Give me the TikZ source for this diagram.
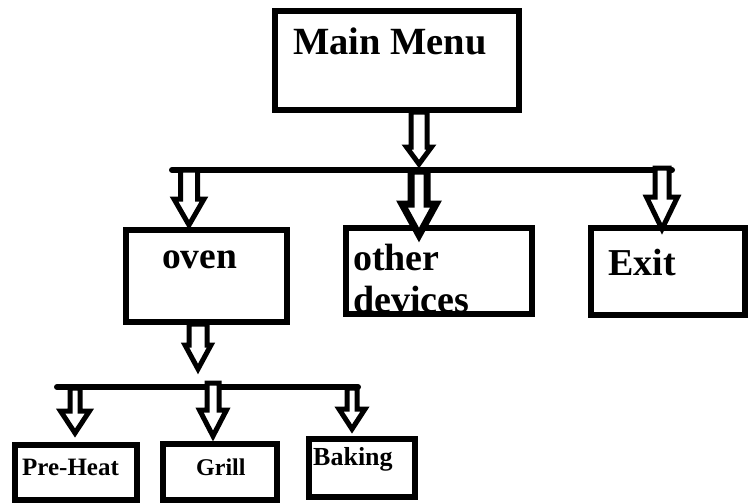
\documentclass[tikz,border=0pt]{standalone}
\usepackage{fontspec}
\setmainfont{Liberation Serif}
\usetikzlibrary{calc}
\tikzset{
  box/.style={draw=black, line width=6pt, fill=white, rectangle, inner sep=0pt, minimum width=#1},
  bus/.style={draw=black, line width=6pt, line cap=round},
  harrowstyle/.style={draw=black, fill=white, line width=5pt, line join=miter, miter limit=3},
  lbl/.style={anchor=base west, inner sep=0pt, font=\bfseries},
}
% hollow block arrow: #1 start, #2 tip, #3 shaft half width, #4 head half width, #5 head length
\newcommand\harr[6][]{\draw[harrowstyle,#1] let \p1=(#2),\p2=(#3) in
  (\x1-#4,\y1) -- (\x1-#4,\y2+#6) -- (\x1-#5,\y2+#6) -- (\x1,\y2) -- (\x1+#5,\y2+#6) -- (\x1+#4,\y2+#6) -- (\x1+#4,\y1) -- cycle;}
\newcommand\boxat[5]{\node[box=#4-#2, minimum height=#5-#3] (#1) at ({(#2+#4)/2},{(#3+#5)/2}) {};}
\begin{document}
\begin{tikzpicture}[x=1pt,y=-1pt]
\useasboundingbox (0,0) rectangle (748,504);
% boxes
\node[box=244pt, minimum height=99pt] (main) at (397,60.5) {};
\node[box=161pt, minimum height=92pt] (oven) at (206.5,276) {};
\node[box=186pt, minimum height=86pt] (other) at (439,271) {};
\node[box=154pt, minimum height=87pt] (exit) at (668,271.5) {};
\node[box=122pt, minimum height=55pt] (pre) at (76,472.5) {};
\node[box=114pt, minimum height=56pt] (grill) at (220,472) {};
\node[box=106pt, minimum height=58pt] (bake) at (362,468) {};
% labels
\node[lbl, font=\bfseries\fontsize{38.5}{40}\selectfont] (tmain) at (293,54) {Main Menu};
\node[lbl, font=\bfseries\fontsize{37.5}{40}\selectfont] (toven) at (162,268) {oven};
\node[lbl, font=\bfseries\fontsize{38}{40}\selectfont] (tother) at (353,270) {other};
\node[lbl, font=\bfseries\fontsize{38}{40}\selectfont] (tdev) at (353,312) {devices};
\node[lbl, font=\bfseries\fontsize{38}{40}\selectfont] (texit) at (608,275) {Exit};
\node[lbl, font=\bfseries\fontsize{25}{27}\selectfont] (tpre) at (22,475) {Pre-Heat};
\node[lbl, font=\bfseries\fontsize{24}{26}\selectfont] (tgrill) at (196,475) {Grill};
\node[lbl, font=\bfseries\fontsize{26}{28}\selectfont] (tbake) at (313,465) {Baking};
% buses
\coordinate (b1l) at (172,170);
\coordinate (b1r) at (672,170);
\coordinate (b2l) at (57,387);
\coordinate (b2r) at (358,387);
\draw[bus] (b1l) -- (b1r);
\draw[bus] (b2l) -- (b2r);
% arrow anchor coordinates
\coordinate (a1s) at (419,112);  \coordinate (a1t) at (419,164);
\coordinate (a2s) at (419,171);  \coordinate (a2t) at (419,235);
\coordinate (a3s) at (189,170);  \coordinate (a3t) at (189,225);
\coordinate (a4s) at (662,168);  \coordinate (a4t) at (662,229);
\coordinate (a5s) at (198,324);  \coordinate (a5t) at (198,369);
\coordinate (a6s) at (75,388);   \coordinate (a6t) at (75,433);
\coordinate (a7s) at (213,383);  \coordinate (a7t) at (213,436);
\coordinate (a8s) at (352,388);  \coordinate (a8t) at (352,429);
\harr{a1s}{a1t}{8pt}{12.5pt}{17pt}
\harr[line width=7pt]{a2s}{a2t}{8pt}{17pt}{31pt}
\harr{a3s}{a3t}{8.5pt}{15pt}{26pt}
\harr{a4s}{a4t}{7pt}{15.5pt}{32pt}
\harr{a5s}{a5t}{9pt}{13pt}{24pt}
\harr{a6s}{a6t}{5pt}{14.5pt}{22pt}
\harr{a7s}{a7t}{6pt}{13.5pt}{26pt}
\harr{a8s}{a8t}{5pt}{13pt}{20pt}
\end{tikzpicture}
\end{document}
